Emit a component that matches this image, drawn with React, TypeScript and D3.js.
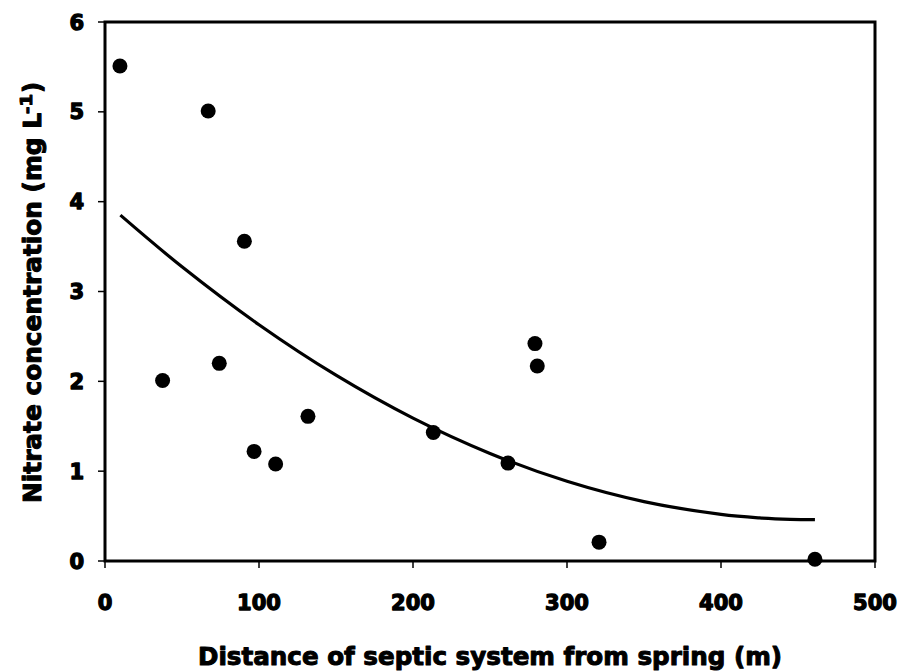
import React from "react";
import * as d3 from "d3";

const distances = [9.7, 67, 37.4, 74.2, 90.5, 96.8, 110.8, 131.8, 213.2, 261.7, 279.2, 280.7, 320.8, 461];
const nitrate = [5.51, 5.01, 2.01, 2.2, 3.56, 1.22, 1.08, 1.61, 1.43, 1.09, 2.42, 2.17, 0.21, 0.02];

const trendX = [10, 50, 100, 150, 200, 250, 300, 350, 400, 425, 445, 461];
const trendY = [3.85, 3.275, 2.63, 2.068, 1.59, 1.197, 0.887, 0.661, 0.519, 0.48, 0.464, 0.46];

const xTicks = [0, 100, 200, 300, 400, 500];
const yTicks = [0, 1, 2, 3, 4, 5, 6];

const xTitle = "Distance of septic system from spring (m)";
const yTitleMain = "Nitrate concentration (mg L";
const yTitleSup = "-1";
const yTitleEnd = ")";

const W = 904;
const H = 672;
const left = 105;
const right = 875;
const top = 22;
const bottom = 561;

export default function App() {
  const x = d3.scaleLinear().domain([0, 500]).range([left, right]);
  const y = d3.scaleLinear().domain([0, 6]).range([bottom, top]);
  const line = d3
    .line<number>()
    .x((_, i) => x(trendX[i]))
    .y((d) => y(d))
    .curve(d3.curveCatmullRom);
  const font = "'DejaVu Sans', 'Liberation Sans', Arial, sans-serif";
  const heavy = { stroke: "#000", strokeWidth: 1.3, strokeLinejoin: "round" as const };
  const heavyTitle = { stroke: "#000", strokeWidth: 1.0, strokeLinejoin: "round" as const };
  return (
    <svg
      width={W}
      height={H}
      style={{ position: "absolute", left: 0, top: 0 }}
      fontFamily={font}
      fontWeight="bold"
    >
      <rect x={0} y={0} width={W} height={H} fill="#fff" />
      {yTicks.map((t) => (
        <g key={"y" + t}>
          <line x1={left - 7} x2={left} y1={y(t)} y2={y(t)} stroke="#000" strokeWidth={1.5} />
          <text x={84} y={y(t)} dy="0.36em" textAnchor="end" fontSize={21} fill="#000" {...heavy}>
            {t}
          </text>
        </g>
      ))}
      {xTicks.map((t) => (
        <g key={"x" + t}>
          <line x1={x(t)} x2={x(t)} y1={bottom} y2={bottom + 7} stroke="#000" strokeWidth={1.5} />
          <text x={x(t)} y={610} textAnchor="middle" fontSize={21} fill="#000" {...heavy}>
            {t}
          </text>
        </g>
      ))}
      <rect
        x={left}
        y={top}
        width={right - left}
        height={bottom - top}
        fill="none"
        stroke="#000"
        strokeWidth={3}
      />
      <path d={line(trendY) || ""} fill="none" stroke="#000" strokeWidth={3.2} />
      {distances.map((d, i) => (
        <circle key={i} cx={x(d)} cy={y(nitrate[i])} r={7.5} fill="#000" />
      ))}
      <text
        x={198}
        y={665}
        fontSize={24}
        fill="#000"
        textLength={584}
        lengthAdjust="spacingAndGlyphs"
        {...heavyTitle}
      >
        {xTitle}
      </text>
      <g transform="translate(41, 0) rotate(-90)">
        <text
          x={-503}
          y={0}
          fontSize={24}
          fill="#000"
          textLength={390}
          lengthAdjust="spacingAndGlyphs"
          {...heavyTitle}
        >
          {yTitleMain}
        </text>
        <text x={-114} y={-9} fontSize={15} fill="#000" {...heavyTitle} textLength={20} lengthAdjust="spacingAndGlyphs">
          {yTitleSup}
        </text>
        <text x={-93} y={0} fontSize={24} fill="#000" {...heavyTitle}>
          {yTitleEnd}
        </text>
      </g>
    </svg>
  );
}
